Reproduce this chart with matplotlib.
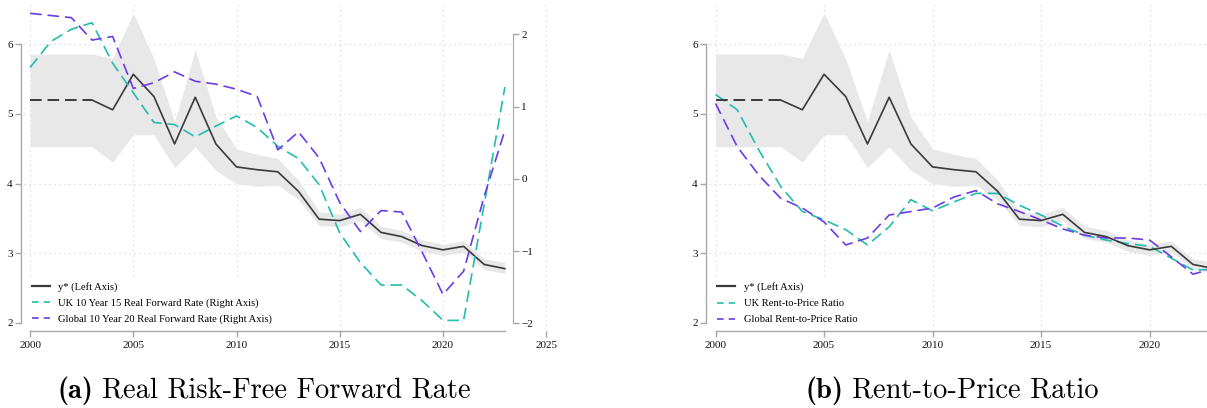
import numpy as np
import matplotlib
matplotlib.use("Agg")
import matplotlib.pyplot as plt
from matplotlib.lines import Line2D

plt.rcParams['font.family'] = ['Liberation Serif', 'DejaVu Serif']

# Data
years = np.arange(2000, 2024)
ystar = [5.20, 5.20, 5.20, 5.20, 5.06, 5.57, 5.25, 4.57, 5.24, 4.57, 4.24, 4.20,
         4.17, 3.89, 3.49, 3.47, 3.56, 3.30, 3.24, 3.11, 3.05, 3.10, 2.84, 2.78]
ystar_hi = [5.86, 5.86, 5.86, 5.86, 5.80, 6.45, 5.79, 4.89, 5.92, 4.96, 4.50, 4.42,
            4.36, 4.05, 3.60, 3.56, 3.66, 3.39, 3.33, 3.19, 3.13, 3.18, 2.92, 2.87]
ystar_lo = [4.53, 4.53, 4.53, 4.53, 4.31, 4.70, 4.70, 4.23, 4.53, 4.19, 4.00, 3.96,
            3.98, 3.77, 3.40, 3.38, 3.47, 3.21, 3.16, 3.03, 2.97, 3.02, 2.77, 2.71]

uk_fwd = [1.54, 1.90, 2.07, 2.16, 1.60, 1.19, 0.78, 0.75, 0.58, 0.73, 0.87, 0.71,
          0.45, 0.28, -0.08, -0.75, -1.16, -1.47, -1.47, -1.69, -1.96, -1.96, -0.35, 1.27]
gl_fwd = [2.29, 2.26, 2.23, 1.92, 1.97, 1.25, 1.33, 1.48, 1.35, 1.31, 1.24, 1.14,
          0.40, 0.65, 0.29, -0.33, -0.73, -0.44, -0.46, -1.02, -1.60, -1.28, -0.24, 0.67]

uk_rp = [5.28, 5.06, 4.48, 3.96, 3.60, 3.48, 3.34, 3.12, 3.38, 3.77, 3.61, 3.74,
         3.86, 3.86, 3.69, 3.55, 3.39, 3.26, 3.19, 3.14, 3.10, 2.93, 2.76, 2.77]
gl_rp = [5.15, 4.53, 4.12, 3.79, 3.65, 3.45, 3.12, 3.22, 3.55, 3.60, 3.65, 3.81,
         3.90, 3.71, 3.60, 3.48, 3.35, 3.26, 3.22, 3.22, 3.19, 2.95, 2.70, 2.79]

xticks = [2000, 2005, 2010, 2015, 2020, 2025]
left_ticks = [2, 3, 4, 5, 6]
right_ticks = [-2, -1, 0, 1, 2]

TEAL = '#22bdae'
PURPLE = '#6a3ce8'
DARK = '#3a3a3a'
BAND = '#e8e8e8'
SPINE = '#a8a8a8'
GRID = '#d6d6d6'
DASH = (0, (7, 3.5))

fig = plt.figure(figsize=(12.07, 4.08), dpi=100)


def style_axis(ax, xmax_spine, hgrid_end, ticks):
    ax.set_xlim(1999.56, 2025.28)
    ax.set_ylim(1.885, 6.607)
    for s in ['top', 'right']:
        ax.spines[s].set_visible(False)
    for s in ['left', 'bottom']:
        ax.spines[s].set_color(SPINE)
        ax.spines[s].set_linewidth(1.0)
    ax.spines['left'].set_bounds(2, 6)
    ax.spines['bottom'].set_bounds(2000, xmax_spine)
    ax.set_xticks(ticks)
    ax.set_yticks(left_ticks)
    ax.tick_params(colors=SPINE, labelcolor='#111111', labelsize=8, length=4, width=1)
    ax.tick_params(axis='y', pad=2)
    for x in xticks:
        ax.axvline(x, color=GRID, ls=(0, (1, 3)), lw=0.9, zorder=0)
    ax.hlines([3, 4, 5, 6], 1999.7, hgrid_end, color=GRID, ls=(0, (1, 3)), lw=0.9, zorder=0)
    ax.fill_between(years, ystar_lo, ystar_hi, color=BAND, lw=0, zorder=1)
    ax.plot(years[:4], ystar[:4], color=DARK, lw=1.4, ls=(0, (6, 3)), zorder=3)
    ax.plot(years[3:], ystar[3:], color=DARK, lw=1.2, zorder=3)


def add_legend(ax, labels):
    handles = [Line2D([], [], color=DARK, lw=1.6),
               Line2D([], [], color=TEAL, lw=1.2, ls=(0, (4, 3))),
               Line2D([], [], color=PURPLE, lw=1.2, ls=(0, (4, 3)))]
    ax.legend(handles, labels, loc='lower left', bbox_to_anchor=(0.005, -0.005),
              fontsize=7.6, frameon=True, facecolor='white', edgecolor='none',
              framealpha=1, handlelength=1.7, handletextpad=0.8, labelspacing=0.62,
              borderpad=0.3, fancybox=False)


# (a) Real risk-free forward rate
ax1 = fig.add_axes([0.0174, 0.1887, 0.4399, 0.8064])
style_axis(ax1, 2023, 2023.4, xticks)
ax1b = ax1.twinx()
ax1b.set_ylim(-2.107, 2.447)
for s in ['top', 'left', 'bottom']:
    ax1b.spines[s].set_visible(False)
ax1b.spines['right'].set_position(('data', 2023.4))
ax1b.spines['right'].set_bounds(-2, 2)
ax1b.spines['right'].set_color(SPINE)
ax1b.set_yticks(right_ticks)
ax1b.tick_params(colors=SPINE, labelcolor='#111111', labelsize=8, length=4, width=1, pad=2)
ax1b.plot(years, uk_fwd, color=TEAL, lw=1.2, ls=DASH, zorder=2)
ax1b.plot(years, gl_fwd, color=PURPLE, lw=1.2, ls=DASH, zorder=2)
add_legend(ax1b, ['y* (Left Axis)', 'UK 10 Year 15 Real Forward Rate (Right Axis)',
                  'Global 10 Year 20 Real Forward Rate (Right Axis)'])

# (b) Rent-to-price ratio
ax2 = fig.add_axes([0.5849, 0.1887, 0.4625, 0.8064])
style_axis(ax2, 2025.3, 2025.3, xticks[:-1])
ax2.plot(years, uk_rp, color=TEAL, lw=1.2, ls=DASH, zorder=2)
ax2.plot(years, gl_rp, color=PURPLE, lw=1.2, ls=DASH, zorder=2)
add_legend(ax2, ['y* (Left Axis)', 'UK Rent-to-Price Ratio', 'Global Rent-to-Price Ratio'])

# captions: bold label + roman text, Computer Modern look
renderer = fig.canvas.get_renderer()
W, H = fig.bbox.width, fig.bbox.height
for x0, tag, txt in [(57, '(a)', 'Real Risk-Free Forward Rate'),
                     (805, '(b)', 'Rent-to-Price Ratio')]:
    t = fig.text(x0 / W, 1 - 398 / H, tag, fontfamily='cmb10', fontsize=20.5,
                 ha='left', va='baseline')
    bb = t.get_window_extent(renderer)
    fig.text((bb.x1 + 9) / W, 1 - 398 / H, txt, fontfamily='cmr10', fontsize=20.5,
             ha='left', va='baseline')

fig.savefig('out.png', dpi=100)
